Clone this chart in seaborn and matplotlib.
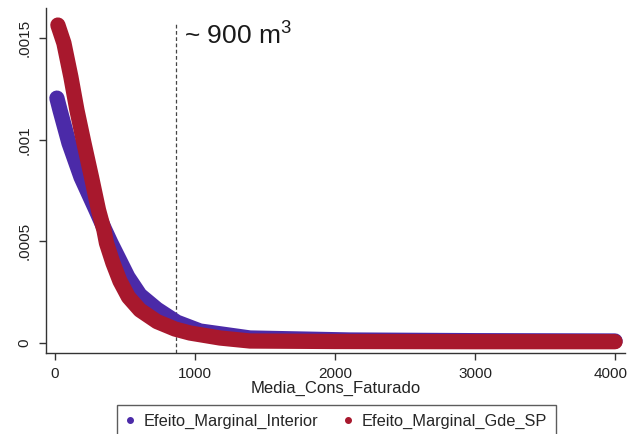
import numpy as np
import pandas as pd
import seaborn as sns
import matplotlib
matplotlib.use("Agg")
import matplotlib.pyplot as plt
from matplotlib.lines import Line2D
from matplotlib.transforms import ScaledTranslation

# ---- data ----
interior_x = [14, 36, 100, 186, 293, 357, 400, 450, 521, 607, 729, 871, 1036, 1393, 2107, 3000, 4000]
interior_y = [0.001205, 0.001146, 0.000984, 0.000816, 0.000654, 0.000555, 0.000491, 0.000422,
              0.000324, 0.000235, 0.000165, 0.000101, 0.0000576, 0.0000232, 0.0000133,
              0.0000100, 0.0000084]
gdesp_x = [21, 64, 114, 157, 207, 261, 311, 350, 368, 414, 464, 525, 607, 729, 857, 964,
           1179, 1393, 2000, 3000, 4000]
gdesp_y = [0.001565, 0.001476, 0.001309, 0.001146, 0.000984, 0.000816, 0.000654, 0.000555,
           0.000491, 0.000393, 0.000304, 0.000225, 0.000161, 0.000104, 0.0000675, 0.0000478,
           0.0000232, 0.0000084, 0.0000060, 0.0000050, 0.0000050]
series_names = ["Efeito_Marginal_Interior", "Efeito_Marginal_Gde_SP"]
series_colors = ["#4B2AA8", "#A8182D"]
threshold_x = 865
x_ticks = [0, 1000, 2000, 3000, 4000]
y_ticks = [0, 0.0005, 0.001, 0.0015]
y_ticklabels = ["0", ".0005", ".001", ".0015"]

df = pd.concat([
    pd.DataFrame({"x": interior_x, "y": interior_y, "serie": series_names[0]}),
    pd.DataFrame({"x": gdesp_x, "y": gdesp_y, "serie": series_names[1]}),
], ignore_index=True)

sns.set_theme(style="white")
plt.rcParams["font.family"] = ["Liberation Sans", "DejaVu Sans"]
plt.rcParams["mathtext.default"] = "regular"

fig = plt.figure(figsize=(6.3, 4.34), dpi=100)
ax_bottom_px, ax_top_px = 353, 8
ax = fig.add_axes([45.7 / 630, (434 - ax_bottom_px) / 434, (625 - 45.7) / 630,
                   (ax_bottom_px - ax_top_px) / 434])

palette = dict(zip(series_names, series_colors))
sns.lineplot(data=df, x="x", y="y", hue="serie", palette=palette, estimator=None,
             linewidth=11, legend=False, ax=ax,
             solid_capstyle="round", solid_joinstyle="round")

ax.axvline(threshold_x, ymax=(ax_bottom_px - 22) / (ax_bottom_px - ax_top_px),
           color="#444444", linestyle=(0, (3, 2)), linewidth=0.9, zorder=1)
ax.text(threshold_x + 60, 0.00151, "~ 900 m$^{3}$", fontsize=19, color="#1a1a1a",
        ha="left", va="center")

ax.set_xlim(-66, 4071)
ax.set_ylim(-0.0000507, 0.001649)
ax.set_xticks(x_ticks)
ax.set_xticklabels([str(t) for t in x_ticks])
ax.set_yticks(y_ticks)
ax.set_yticklabels(y_ticklabels, rotation=90, va="center")
ax.tick_params(axis="both", which="both", direction="out", length=5, width=1,
               color="#333333", labelsize=11, labelcolor="#222222", pad=5,
               bottom=True, left=True)
last = ax.get_xticklabels()[-1]
last.set_transform(last.get_transform() + ScaledTranslation(-4 / 100, 0, fig.dpi_scale_trans))
for s in ["top", "right"]:
    ax.spines[s].set_visible(False)
for s in ["left", "bottom"]:
    ax.spines[s].set_color("#333333")
    ax.spines[s].set_linewidth(1)
ax.set_xlabel("Media_Cons_Faturado", fontsize=12, color="#222222", labelpad=0)
ax.set_ylabel("")

handles = [Line2D([], [], linestyle="none", marker="o", markersize=4,
                  color=c, label=n) for n, c in zip(series_names, series_colors)]
leg = fig.legend(handles=handles, loc="upper left", bbox_to_anchor=(117 / 630, 1 - 405 / 434),
                 ncol=2, frameon=True, fontsize=11.8, handlelength=0.5, handletextpad=0.55,
                 columnspacing=1.6, borderpad=0.55, borderaxespad=0, fancybox=False)
leg.get_frame().set_edgecolor("#333333")
leg.get_frame().set_linewidth(1)

fig.savefig("out.png", dpi=100)
